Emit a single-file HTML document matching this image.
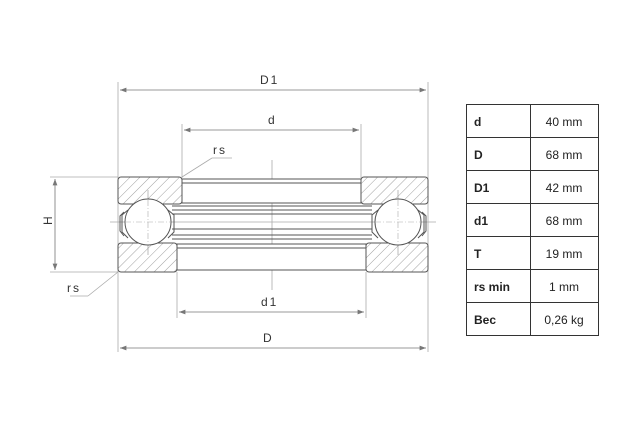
<!DOCTYPE html>
<html><head><style>body{margin:0;background:#fff}svg{display:block}</style></head><body>
<svg width="642" height="444" viewBox="0 0 642 444" xmlns="http://www.w3.org/2000/svg" font-family="Liberation Sans, Arial, sans-serif">
<defs>
<pattern id="h" width="7" height="7" patternUnits="userSpaceOnUse" patternTransform="rotate(45)">
<line x1="0" y1="0" x2="0" y2="7" stroke="#888" stroke-width="0.8"/></pattern>
<marker id="a" markerWidth="8" markerHeight="6" refX="8" refY="3" orient="auto-start-reverse"><path d="M0,0L8,3L0,6z" fill="#777"/></marker>
</defs>
<g stroke="#aaa" stroke-width="0.8" fill="none">
<line x1="118" y1="82" x2="118" y2="352"/><line x1="428" y1="82" x2="428" y2="352"/>
<line x1="182" y1="124" x2="182" y2="178"/><line x1="361" y1="124" x2="361" y2="178"/>
<line x1="177" y1="272" x2="177" y2="318"/><line x1="366" y1="272" x2="366" y2="318"/>
<line x1="50" y1="177" x2="118" y2="177"/><line x1="50" y1="272" x2="118" y2="272"/>
<line x1="272" y1="160" x2="272" y2="290"/>
<line x1="148" y1="190" x2="148" y2="255"/><line x1="398" y1="190" x2="398" y2="255"/>
<line x1="110" y1="222" x2="436" y2="222"/>
<line x1="182" y1="177" x2="212" y2="158"/><line x1="212" y1="158" x2="232" y2="158"/>
<line x1="118" y1="272" x2="88" y2="296"/><line x1="88" y1="296" x2="70" y2="296"/>
</g>
<g stroke="#777" stroke-width="0.8">
<line x1="120" y1="90" x2="426" y2="90" marker-start="url(#a)" marker-end="url(#a)"/>
<line x1="184" y1="130" x2="359" y2="130" marker-start="url(#a)" marker-end="url(#a)"/>
<line x1="179" y1="312" x2="364" y2="312" marker-start="url(#a)" marker-end="url(#a)"/>
<line x1="120" y1="348" x2="426" y2="348" marker-start="url(#a)" marker-end="url(#a)"/>
<line x1="55" y1="179" x2="55" y2="270" marker-start="url(#a)" marker-end="url(#a)"/>
</g>
<g fill="#333" font-size="12" letter-spacing="2">
<text x="260" y="84">D1</text><text x="268" y="124">d</text>
<text x="213" y="154">rs</text><text x="67" y="292">rs</text>
<text x="261" y="306">d1</text><text x="263" y="342">D</text>
<text x="48" y="229" transform="rotate(-90 48 225)">H</text>
</g>
<g stroke="#555" stroke-width="1" >
<rect x="118" y="177" width="64" height="27" rx="3" fill="url(#h)"/>
<rect x="361" y="177" width="67" height="27" rx="3" fill="url(#h)"/>
<rect x="182" y="179" width="179" height="24" fill="#fff"/>
<line x1="182" y1="183" x2="361" y2="183"/>
<rect x="118" y="243" width="59" height="29" rx="3" fill="url(#h)"/>
<rect x="366" y="243" width="62" height="29" rx="3" fill="url(#h)"/>
<rect x="177" y="244" width="189" height="26" fill="#fff"/>
<line x1="177" y1="248" x2="366" y2="248"/>
<g fill="none">
<line x1="172" y1="206" x2="372" y2="206"/><line x1="172" y1="210" x2="372" y2="210"/>
<line x1="172" y1="214" x2="372" y2="214"/><line x1="172" y1="229" x2="372" y2="229"/>
<line x1="172" y1="235" x2="372" y2="235"/><line x1="172" y1="239" x2="372" y2="239"/>
<path d="M128,210 L122,215 L122,232 L128,238"/><path d="M124,212 L120,216 L120,231 L124,236"/>
<path d="M168,210 L174,215 L174,232 L168,238"/>
<path d="M418,210 L424,215 L424,232 L418,238"/><path d="M422,212 L426,216 L426,231 L422,236"/>
<path d="M378,210 L372,215 L372,232 L378,238"/>
</g>
<circle cx="148" cy="222" r="23" fill="#fff"/>
<circle cx="398" cy="222" r="23" fill="#fff"/>
</g>
<g stroke="#aaa" stroke-width="0.6" stroke-dasharray="6 2 1 2">
<line x1="125" y1="222" x2="171" y2="222"/><line x1="148" y1="200" x2="148" y2="245"/>
<line x1="375" y1="222" x2="421" y2="222"/><line x1="398" y1="200" x2="398" y2="245"/>
</g>
<g stroke="#333" stroke-width="1" fill="none">
<rect x="466.5" y="104.5" width="132" height="231"/>
<line x1="530.5" y1="104" x2="530.5" y2="336"/>
<line x1="466" y1="137.5" x2="599" y2="137.5"/><line x1="466" y1="170.5" x2="599" y2="170.5"/>
<line x1="466" y1="203.5" x2="599" y2="203.5"/><line x1="466" y1="236.5" x2="599" y2="236.5"/>
<line x1="466" y1="269.5" x2="599" y2="269.5"/><line x1="466" y1="302.5" x2="599" y2="302.5"/>
</g>
<g font-size="12" fill="#222">
<g font-weight="bold">
<text x="474" y="126">d</text><text x="474" y="159">D</text><text x="474" y="192">D1</text>
<text x="474" y="225">d1</text><text x="474" y="258">T</text><text x="474" y="291">rs min</text><text x="474" y="324">Bec</text>
</g>
<g text-anchor="middle">
<text x="564" y="126">40 mm</text><text x="564" y="159">68 mm</text><text x="564" y="192">42 mm</text>
<text x="564" y="225">68 mm</text><text x="564" y="258">19 mm</text><text x="564" y="291">1 mm</text><text x="564" y="324">0,26 kg</text>
</g></g>
</svg>
</body></html>
